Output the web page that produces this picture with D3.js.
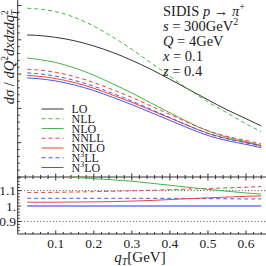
<!DOCTYPE html>
<html><head><meta charset="utf-8">
<script src="https://cdn.jsdelivr.net/npm/d3@7"></script>
<style>
html,body{margin:0;padding:0;background:#fff;}
svg{display:block;}
text{font-family:"Liberation Serif","DejaVu Serif",serif;fill:#222;}
</style></head>
<body>
<svg id="c" width="266" height="266"></svg>
<script>
// ---- data ----
const qT   = [0.025,0.05,0.1,0.15,0.2,0.25,0.3,0.35,0.4,0.45,0.5,0.55,0.6,0.64];
const LO   = [4.14,4.13,4.07,3.97,3.82,3.63,3.40,3.14,2.85,2.55,2.25,1.96,1.70,1.49];
const NLL  = [4.92,4.90,4.82,4.65,4.40,4.08,3.72,3.33,2.94,2.55,2.19,1.87,1.55,1.32];
const NLO  = [3.468,3.435,3.338,3.178,2.969,2.714,2.450,2.158,1.873,1.592,1.341,1.162,1.031,0.922];
const NNLL = [3.141,3.123,3.049,2.924,2.754,2.543,2.319,2.072,1.825,1.576,1.348,1.185,1.066,0.963];
const NNLO = [2.962,2.942,2.870,2.750,2.588,2.387,2.178,1.948,1.719,1.488,1.274,1.121,1.010,0.911];
const N3LL = [3.035,3.014,2.940,2.814,2.646,2.436,2.216,1.974,1.733,1.490,1.268,1.110,0.994,0.894];
const N3LO = [2.89,2.87,2.80,2.68,2.52,2.32,2.11,1.88,1.65,1.42,1.21,1.06,0.95,0.855];
// ratios to N3LO (lower panel)
const rNLO  = [1.200,1.197,1.192,1.186,1.178,1.170,1.161,1.148,1.135,1.121,1.108,1.096,1.085,1.078];
const rNNLL = [1.087,1.088,1.089,1.091,1.093,1.096,1.099,1.102,1.106,1.110,1.114,1.118,1.122,1.126];
const rNNLO = [1.025,1.025,1.025,1.026,1.027,1.029,1.032,1.036,1.042,1.048,1.053,1.058,1.063,1.066];
const rN3LL = [1.050,1.050,1.050,1.050,1.050,1.050,1.050,1.050,1.050,1.049,1.048,1.047,1.046,1.046];
const rN3LO = [1,1,1,1,1,1,1,1,1,1,1,1,1,1];
const xTickVals = [0.1,0.2,0.3,0.4,0.5,0.6];
const xTickLabels = ["0.1","0.2","0.3","0.4","0.5","0.6"];
const rTickVals = [0.9,1.0,1.1];
const rTickLabels = ["0.9","1.","1.1"];
const legendNames = ["LO","NLL","NLO","NNLL","NNLO","N3LL","N3LO"];

// ---- styles ----
const GREEN="#45b845", RED="#ee4040", BLUE="#4a55ee", BLACK="#333";
const styles = {
  LO:{c:BLACK,d:null}, NLL:{c:GREEN,d:"4,3"}, NLO:{c:GREEN,d:null},
  NNLL:{c:RED,d:"4,3"}, NNLO:{c:RED,d:null}, N3LL:{c:BLUE,d:"4,3"}, N3LO:{c:BLUE,d:null}
};
const upper = {LO,NLL,NLO,NNLL,NNLO,N3LL,N3LO};
const lower = {NLO:rNLO,NNLL:rNNLL,NNLO:rNNLO,N3LL:rN3LL,N3LO:rN3LO};

const svg = d3.select("#c");
const xL=17.7, xR=266, yTop=0, yMid=177, yBot=234;
const x = d3.scaleLinear().domain([0,0.6526]).range([xL,xR]);
const y = d3.scaleLinear().domain([0,5.16]).range([yMid,yTop]);
const yr = d3.scaleLinear().domain([0.8184,1.1884]).range([yBot,yMid]);

svg.append("clipPath").attr("id","cu").append("rect").attr("x",xL).attr("y",0).attr("width",xR-xL).attr("height",yMid);
svg.append("clipPath").attr("id","cl").append("rect").attr("x",xL).attr("y",yMid).attr("width",xR-xL).attr("height",yBot-yMid);

// axes lines
const ax = svg.append("g").attr("stroke","#333").attr("stroke-width",1).attr("fill","none");
ax.append("line").attr("x1",xL).attr("x2",xL).attr("y1",0).attr("y2",yBot);
ax.append("line").attr("x1",xL).attr("x2",xR).attr("y1",yMid).attr("y2",yMid);
ax.append("line").attr("x1",xL).attr("x2",xR).attr("y1",yBot).attr("y2",yBot);

// x ticks
const xMinor = d3.range(0.02,0.651,0.02);
xMinor.forEach(v=>{
  const isMaj = xTickVals.some(t=>Math.abs(t-v)<1e-6);
  const L = isMaj?3.5:2;
  ax.append("line").attr("x1",x(v)).attr("x2",x(v)).attr("y1",yBot).attr("y2",yBot-L);
  ax.append("line").attr("x1",x(v)).attr("x2",x(v)).attr("y1",yMid-L).attr("y2",yMid+L);
});
// upper y ticks
d3.range(0,5.17,0.2).forEach(v=>{
  const isMaj = Math.abs(v-Math.round(v))<1e-6;
  const L = isMaj?3.5:2;
  ax.append("line").attr("x1",xL).attr("x2",xL+L).attr("y1",y(v)).attr("y2",y(v));
});
// lower y ticks
d3.range(0.84,1.19,0.02).forEach(v=>{
  const isMaj = rTickVals.some(t=>Math.abs(t-v)<1e-6);
  const L = isMaj?3.5:2;
  ax.append("line").attr("x1",xL).attr("x2",xL+L).attr("y1",yr(v)).attr("y2",yr(v));
});

// dotted reference lines
[0.9,1.1].forEach(v=>{
  svg.append("line").attr("x1",xL).attr("x2",xR).attr("y1",yr(v)).attr("y2",yr(v))
    .attr("stroke","#333").attr("stroke-width",0.9).attr("stroke-dasharray","1,2.2");
});

// tick labels
svg.append("g").selectAll("text").data(xTickVals).join("text")
  .attr("x",d=>x(d)).attr("y",248).attr("text-anchor","middle").attr("font-size",13.5)
  .text((d,i)=>xTickLabels[i]);
svg.append("g").selectAll("text").data(rTickVals).join("text")
  .attr("x",16).attr("y",d=>yr(d)+4.5).attr("text-anchor","end").attr("font-size",13.5)
  .text((d,i)=>rTickLabels[i]);

// upper curves
const lineU = d3.line().x((d,i)=>x(qT[i])).y(d=>y(d)).curve(d3.curveMonotoneX);
const gU = svg.append("g").attr("clip-path","url(#cu)");
["LO","NLL","NLO","NNLL","NNLO","N3LL","N3LO"].forEach(k=>{
  gU.append("path").datum(upper[k]).attr("d",lineU).attr("fill","none")
    .attr("stroke",styles[k].c).attr("stroke-width",1)
    .attr("stroke-dasharray",styles[k].d);
});
// lower curves
const lineL = d3.line().x((d,i)=>x(qT[i])).y(d=>yr(d)).curve(d3.curveMonotoneX);
const gL = svg.append("g").attr("clip-path","url(#cl)");
["N3LO","N3LL","NNLO","NNLL","NLO"].forEach(k=>{
  gL.append("path").datum(lower[k]).attr("d",lineL).attr("fill","none")
    .attr("stroke",k==="N3LO"?"#8f98f5":styles[k].c).attr("stroke-width",k==="N3LO"?2.2:1)
    .attr("stroke-dasharray",styles[k].d);
});

// legend
const lg = svg.append("g");
legendNames.forEach((n,i)=>{
  const yy = 109 + i*9.75;
  lg.append("line").attr("x1",41.5).attr("x2",63.5).attr("y1",yy).attr("y2",yy)
    .attr("stroke",styles[n].c).attr("stroke-width",1).attr("stroke-dasharray",styles[n].d);
  const t = lg.append("text").attr("x",71.5).attr("y",yy+4.2).attr("font-size",12);
  if(n.startsWith("N3")){
    t.append("tspan").text("N");
    t.append("tspan").text("3").attr("font-size",8).attr("dy",-4.5);
    t.append("tspan").text(n.slice(2)).attr("dy",4.5);
  } else t.text(n);
});

// annotation
const ann = svg.append("g").attr("font-size",14.5);
const a1 = ann.append("text").attr("x",163).attr("y",16);
a1.append("tspan").text("SIDIS ");
a1.append("tspan").text("p").attr("font-style","italic");
a1.append("tspan").text(" → ");
a1.append("tspan").text("π").attr("font-style","italic");
a1.append("tspan").text("+").attr("font-size",10).attr("dy",-6);
const a2 = ann.append("text").attr("x",163).attr("y",31);
a2.append("tspan").text("s").attr("font-style","italic");
a2.append("tspan").text(" = 300GeV");
a2.append("tspan").text("2").attr("font-size",10).attr("dy",-6);
const a3 = ann.append("text").attr("x",163).attr("y",45.5);
a3.append("tspan").text("Q").attr("font-style","italic");
a3.append("tspan").text(" = 4GeV");
const a4 = ann.append("text").attr("x",163).attr("y",60.5);
a4.append("tspan").text("x").attr("font-style","italic");
a4.append("tspan").text(" = 0.1");
const a5 = ann.append("text").attr("x",163).attr("y",75.5);
a5.append("tspan").text("z").attr("font-style","italic");
a5.append("tspan").text(" = 0.4");

// y label
const yl = svg.append("text").attr("transform","translate(13.5,57) rotate(-90)")
  .attr("text-anchor","middle").attr("font-size",14.5).attr("font-style","italic");
yl.append("tspan").text("dσ");
yl.append("tspan").text(" / ").attr("font-style","normal");
yl.append("tspan").text("dQ");
yl.append("tspan").text("2").attr("font-size",9.5).attr("dy",-6).attr("font-style","normal");
yl.append("tspan").text("dxdzdq").attr("dy",6);
yl.append("tspan").text("2").attr("font-size",9.5).attr("dy",-6).attr("font-style","normal");
yl.append("tspan").text("T").attr("font-size",9.5).attr("dx",-5).attr("dy",10);

// x label
const xl = svg.append("text").attr("x",140).attr("y",262).attr("text-anchor","middle").attr("font-size",15);
xl.append("tspan").text("q").attr("font-style","italic");
xl.append("tspan").text("T").attr("font-style","italic").attr("font-size",10).attr("dy",3);
xl.append("tspan").text("[GeV]").attr("dy",-3);
</script>
</body></html>
